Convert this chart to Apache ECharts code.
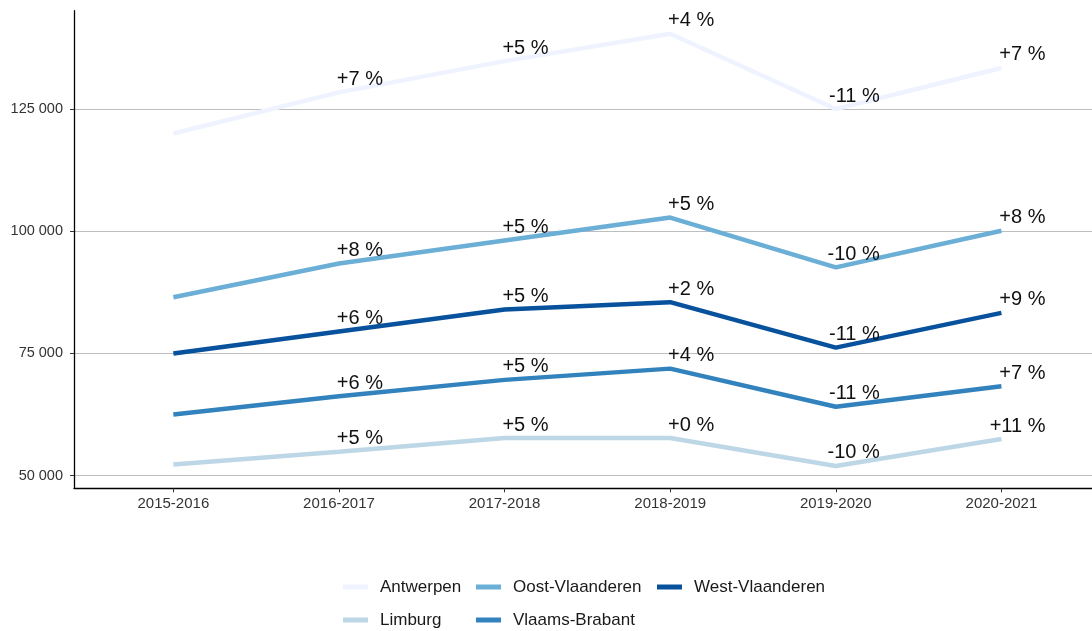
<!DOCTYPE html>
<html>
<head>
    <meta charset="utf-8" />
    <title>Leerlingen per provincie</title>
    <style>
        html, body { margin: 0; padding: 0; background: #fff; }
        #main { width: 1092px; height: 631px; }
    </style>
</head>
<body>
    <div id="main"></div>
    <script src="https://cdn.jsdelivr.net/npm/echarts@6/dist/echarts.min.js"></script>
    <script type="text/javascript">
        // schooljaren op de x-as
        var years = ['2015-2016', '2016-2017', '2017-2018', '2018-2019', '2019-2020', '2020-2021'];
        var yTicks = [50000, 75000, 100000, 125000];

        var antwerpen = [120000, 128400, 134800, 140400, 125000, 133400];
        var limburg = [52300, 54900, 57700, 57700, 52000, 57500];
        var oostVlaanderen = [86500, 93400, 98100, 102800, 92600, 100100];
        var vlaamsBrabant = [62500, 66250, 69600, 71900, 64100, 68300];
        var westVlaanderen = [75000, 79500, 84000, 85500, 76200, 83300];

        // groei t.o.v. vorig jaar
        var antwerpenPct = ['', '+7 %', '+5 %', '+4 %', '-11 %', '+7 %'];
        var limburgPct = ['', '+5 %', '+5 %', '+0 %', '-10 %', '+11 %'];
        var oostPct = ['', '+8 %', '+5 %', '+5 %', '-10 %', '+8 %'];
        var brabantPct = ['', '+6 %', '+5 %', '+4 %', '-11 %', '+7 %'];
        var westPct = ['', '+6 %', '+5 %', '+2 %', '-11 %', '+9 %'];

        var font = '"Liberation Sans", Arial, sans-serif';

        function makeSeries(name, values, pct, color) {
            return {
                name: name,
                type: 'line',
                data: values.map(function (v, i) { return [i, v]; }),
                symbol: 'circle',
                symbolSize: 0.1,
                itemStyle: { color: color },
                lineStyle: { color: color, width: 4.5 },
                z: 3,
                label: {
                    show: true,
                    position: 'inside',
                    align: 'right',
                    verticalAlign: 'middle',
                    offset: [44, -13],
                    fontFamily: font,
                    fontSize: 20,
                    color: '#111',
                    formatter: function (p) { return pct[p.dataIndex]; }
                }
            };
        }

        var legendBase = {
            orient: 'vertical',
            top: 577,
            padding: 0,
            icon: 'rect',
            itemWidth: 25,
            itemHeight: 5,
            itemGap: 13,
            textStyle: { fontFamily: font, fontSize: 17, color: '#1a1a1a', lineHeight: 20, padding: [0, 0, 0, 7] }
        };

        var chart = echarts.init(document.getElementById('main'));
        var option = {
            backgroundColor: '#fff',
            animation: false,
            grid: { left: 74, top: 10.7, right: 0, bottom: 142.7, containLabel: false },
            legend: [
                Object.assign({}, legendBase, { left: 343, data: ['Antwerpen', 'Limburg'] }),
                Object.assign({}, legendBase, { left: 476, data: ['Oost-Vlaanderen', 'Vlaams-Brabant'] }),
                Object.assign({}, legendBase, { left: 657, data: ['West-Vlaanderen'] })
            ],
            xAxis: {
                type: 'value',
                min: -0.6,
                max: 5.547,
                axisLine: { show: true, lineStyle: { color: '#000', width: 1.3 } },
                axisTick: {
                    show: true, length: 4, lineStyle: { color: '#333' },
                    customValues: years.map(function (y, i) { return i; })
                },
                axisLabel: {
                    customValues: years.map(function (y, i) { return i; }),
                    formatter: function (v) { return years[Math.round(v)]; },
                    fontFamily: font, fontSize: 15, color: '#333', margin: 8
                },
                splitLine: { show: false }
            },
            yAxis: {
                type: 'value',
                min: 47422,
                max: 145110,
                axisLine: { show: true, onZero: false, lineStyle: { color: '#000', width: 1.3 } },
                axisTick: {
                    show: true, length: 4, lineStyle: { color: '#333' },
                    customValues: yTicks
                },
                axisLabel: {
                    customValues: yTicks,
                    formatter: function (v) { return String(v).replace(/\B(?=(\d{3})+(?!\d))/g, ' '); },
                    fontFamily: font, fontSize: 14.5, color: '#333', margin: 11
                },
                splitLine: { show: true, lineStyle: { color: '#bebebe', width: 1 } }
            },
            series: [
                makeSeries('Antwerpen', antwerpen, antwerpenPct, '#eff3ff'),
                makeSeries('Limburg', limburg, limburgPct, '#bdd7e7'),
                makeSeries('Oost-Vlaanderen', oostVlaanderen, oostPct, '#6baed6'),
                makeSeries('Vlaams-Brabant', vlaamsBrabant, brabantPct, '#3182bd'),
                makeSeries('West-Vlaanderen', westVlaanderen, westPct, '#08519c')
            ]
        };
        chart.setOption(option);
    </script>
</body>
</html>
